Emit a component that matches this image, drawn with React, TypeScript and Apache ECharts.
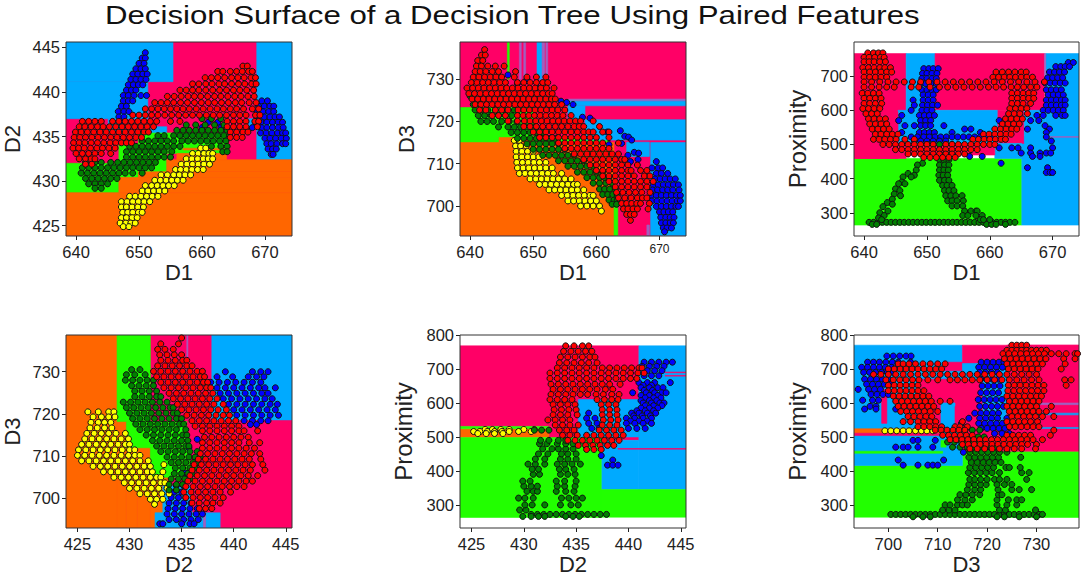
import React, { useEffect, useRef } from 'react'
import * as echarts from 'echarts'

// colours of the tree regions: 0 orange, 1 green, 2 pink, 3 blue, 4 mauve (thin slivers)
const regionColors = ['#FF6600', '#22FF00', '#FF0066', '#00AAFF', '#A060C0']

// regions are [x0, x1, y0, y1, colour], later ones paint over earlier ones
const p1Regions = [
  [638.4, 674.3, 423.9, 445.6, 2],
  [638.4, 655.4, 441.15, 445.6, 3], [638.4, 651.4, 437, 441.15, 3], [645.1, 647.5, 435.5, 437, 3],
  [668.7, 674.3, 432.4, 445.6, 3], [667.4, 668.7, 436.1, 437, 3], [651.9, 654.4, 435.4, 436.1, 3],
  [638.4, 646.8, 428.7, 432, 1], [646.8, 649.9, 430.4, 434.2, 1], [649.9, 654.4, 431, 435.4, 1], [654.4, 663.9, 433.1, 435.4, 1],
  [638.4, 674.3, 423.9, 428.7, 0], [646.8, 674.3, 428.7, 430.4, 0], [649.9, 674.3, 430.4, 431.05, 0],
  [654.4, 674.3, 431.05, 432.4, 0], [656, 663.9, 432.4, 433.1, 0], [657, 663.5, 433.5, 433.7, 0],
]
const p2Regions = [
  [638.4, 674.2, 693, 738.8, 2],
  [638.4, 650, 712, 723.3, 1], [650, 662, 700, 716, 1],
  [638.4, 662.8, 693, 715, 0], [644.6, 650, 715, 716.2, 0],
  [662.8, 663.4, 693, 700, 1],
  [645.9, 646.2, 730, 738.8, 1], [647.8, 648.1, 730, 738.8, 4], [648.5, 648.8, 730, 738.8, 4],
  [650.6, 651.4, 730, 738.8, 3], [651.4, 651.8, 730, 738.8, 4], [652, 652.3, 728, 738.8, 4],
  [655.5, 674.2, 724.8, 725.3, 4], [655.5, 674.2, 723.7, 724.8, 3], [655.5, 658.2, 720.4, 723.7, 3],
  [658.2, 674.2, 715.6, 720.4, 3], [664.8, 668.4, 711.7, 715.1, 3],
  [668.6, 674.2, 693, 715, 3], [668, 668.4, 693, 695.5, 4],
]
const p3Regions = [
  [638.4, 665.1, 264, 459, 1], [665.1, 674.2, 264, 522, 3], [668.9, 674.2, 522, 766, 3], [665.5, 674.2, 521, 523, 4],
  [638.4, 646.7, 459, 766, 2], [646.7, 651.3, 596, 766, 3], [651.3, 668.7, 600, 766, 2],
  [645.4, 661.3, 500, 600, 3], [638.4, 645.4, 459, 596, 2], [661.3, 665.5, 503, 600, 2],
  [665.5, 668.9, 459, 600, 3], [660.8, 665.1, 459, 503, 3], [645.4, 660.8, 469, 503, 2],
  [668.7, 668.9, 660, 766, 4],
]
const p4Regions = [
  [423.9, 445.6, 693, 738.7, 2],
  [423.9, 428.8, 693, 738.7, 0], [428.8, 429.7, 693, 718.2, 0], [429.7, 430.75, 693, 716.2, 0],
  [430.75, 432, 693, 714, 0], [432, 433.2, 693, 708, 0], [433.2, 433.9, 696.6, 705, 0],
  [428.8, 432, 718.2, 738.7, 1], [429.7, 435.5, 712, 718.2, 1], [432, 435.8, 705, 712, 1], [433.9, 435.5, 705, 708, 1],
  [437.9, 445.6, 718.6, 738.7, 3], [432.45, 437.1, 693, 696.6, 3], [437.3, 438.7, 693, 696.6, 3],
  [433.2, 436, 696.6, 703, 3], [437.1, 437.3, 693, 696.6, 4], [435.5, 435.6, 730, 738.7, 4],
]
const p5Regions = [
  [423.9, 441, 531, 768, 2], [432.4, 441, 490, 531, 2], [441, 445.5, 345, 768, 3], [437.4, 441, 345, 490, 3],
  [423.9, 432.4, 498, 524, 0], [423.9, 432.4, 524, 531, 1], [423.9, 445.5, 264, 345, 1], [423.9, 437.4, 264, 498, 1],
  [435.2, 441, 500, 610, 3], [439, 445.5, 464, 466, 2], [443.5, 445.5, 689, 691, 2], [443.5, 445.5, 679, 681, 2],
]
const p6Regions = [
  [693.05, 738.6, 264, 416, 1], [715, 738.6, 264, 458, 1],
  [693.05, 715, 416, 770, 3], [715, 724, 530, 716, 3], [724, 738.6, 458, 770, 2], [715, 738.6, 716, 770, 2],
  [693.05, 711, 452, 458, 1], [693.05, 712, 511, 524, 0], [693.05, 712, 504, 511, 2],
  [706, 719, 530, 670, 2],
  [710.65, 713.5, 500, 600, 3], [713.5, 715.8, 525, 590, 2], [710.65, 711.7, 470, 490, 1],
  [711, 715, 695, 720, 2], [698.65, 699.7, 540, 640, 2], [715, 719.2, 670, 716, 3], [715, 724, 458, 530, 2],
  [730, 738.6, 595, 600, 4], [730, 738.6, 565, 570, 3], [730, 738.6, 525, 528, 3],
]

// points, each row is [y, x, x, x ...]
const p1Blue = [
  [444.4, 651], [443.8, 650.5, 651], [443.2, 650, 650.8], [442.6, 649.5, 650.3, 651], [442, 649, 649.8, 650.6, 651.3],
  [441.4, 648.7, 649.5, 650.3, 651.1], [440.8, 648.3, 649.1, 649.9, 650.6], [440.2, 648, 648.8, 649.5],
  [439.6, 647.5, 648.3, 649.2, 650.3, 651.2], [439, 647.5, 648.3, 649], [438.4, 647.2, 648], [437.8, 646.7, 647.6, 648.4],
  [437.2, 646.8, 647.6], [436.6, 647.2],
  [439, 669.5, 670.4], [438.4, 669, 669.9, 670.8, 671.4], [437.8, 668.8, 669.7, 670.6, 671.4],
  [437.2, 669, 669.9, 670.8, 671.6, 672.3], [436.6, 668.5, 669.4, 670.3, 671.2, 672.1, 672.8],
  [436, 668, 669.5, 670.3, 671.2, 672.1, 672.9], [435.4, 669.3, 670.2, 671.1, 672, 672.8, 673.3],
  [434.8, 670, 670.8, 671.7, 672.6, 673.4], [434.2, 670.3, 671, 671.9, 672.8, 673.3], [433.6, 670.5, 671.2, 671.8], [433, 671, 671.3],
  [436.6, 661, 662.5], [436, 660, 663],
]
const p1Yellow = [
  [433.7, 659.8, 660.6], [433.1, 658.5, 659.4, 660.3, 661.1, 661.7], [432.5, 657.5, 658.4, 659.3, 660.2, 661, 661.7],
  [431.9, 656.7, 657.6, 658.5, 659.4, 660.3, 661.2], [431.3, 655.8, 656.6, 657.5, 658.4, 659.3, 660.2],
  [430.7, 653.5, 654.5, 655.5, 656.4, 657.3, 658.2], [430.1, 652.5, 653.4, 654.3, 655.2, 656.1, 657],
  [429.5, 651, 652, 652.9, 653.8, 654.7, 655.6], [428.9, 650.5, 651.4, 652.3, 653.2, 654.1],
  [428.3, 648.5, 649.4, 650.3, 651.2, 652.1, 653], [427.7, 647.2, 648.1, 649, 649.9, 650.8, 651.7],
  [427.1, 647.2, 648, 648.9, 649.8, 650.7], [426.5, 647.4, 648.2, 649, 649.9, 650.5], [425.9, 647.2, 648, 648.9, 649.7],
  [425.3, 647, 647.9, 648.7, 649.4], [424.9, 647.5, 648.4],
]
const p1Green = [
  [437, 660, 661.5, 663], [436.3, 657.5, 659, 660.5, 662, 663.5], [435.7, 656, 657, 658, 659, 660, 661, 662, 663, 664],
  [435.1, 653, 654, 655.5, 656.5, 657.5, 658.5, 659.5, 660.5, 661.5, 662.5, 663.5, 664.4],
  [434.5, 650.5, 651.5, 652.5, 653.5, 654.5, 655.5, 656.8, 657.8, 658.8, 659.8, 660.8, 661.8, 662.8, 663.8],
  [433.9, 648.5, 649.5, 650.5, 651.5, 652.5, 653.5, 654.5, 655.5, 656.5, 661.5, 663, 664],
  [433.3, 648, 649, 650, 651, 652, 653, 654, 655.2, 663.3, 664], [432.7, 648, 649, 650, 651, 652, 653, 654, 655],
  [432.1, 641.5, 643, 644, 645.5, 646.6, 647.6, 648.6, 649.6, 650.6, 651.6, 652.6],
  [431.5, 641, 642, 643, 644, 645, 646, 647, 648, 649, 650, 651, 652],
  [430.9, 640.8, 641.8, 642.8, 643.8, 644.8, 645.8, 646.8, 647.8, 649, 650.5],
  [430.3, 641.5, 642.5, 643.5, 644.5, 645.5, 646.5], [429.7, 642, 643, 644, 645], [429.2, 643, 644],
]
const p1Red = [
  [442.9, 666.5, 667.2], [442.3, 662.5, 663.3, 664.5, 665.5, 666.4, 667.4, 668],
  [441.6, 660.5, 661.5, 662.5, 663.6, 664.7, 665.7, 666.7, 667.8, 668.5],
  [440.9, 658.5, 659.5, 660.6, 661.6, 662.7, 663.6, 664.7, 665.8, 666.8, 667.9, 668.6],
  [440.2, 656.5, 657.5, 658.5, 659.5, 660.6, 661.7, 662.8, 663.9, 665, 666, 667.1, 668.2],
  [439.5, 654.5, 655.6, 656.7, 657.8, 658.8, 659.8, 660.9, 662, 663, 664.1, 665.2, 666.2, 667.3, 668.3],
  [438.8, 652.5, 653.5, 654.5, 655.5, 656.6, 657.7, 658.8, 659.9, 661, 662, 663.1, 664.2, 665.3, 666.3, 667.5, 668.6],
  [438.1, 651, 652, 653, 654, 655, 656, 657, 658, 659.1, 660.2, 661.3, 662.4, 663.4, 664.5, 665.5, 666.6, 668, 669],
  [437.4, 649, 650, 651, 652, 653, 654.1, 655.2, 656.3, 657.4, 658.5, 659.6, 660.7, 661.8, 662.8, 663.9, 665, 666, 667, 668.5, 669.2],
  [436.7, 641, 642, 643, 644, 645.8, 646.8, 647.8, 648.8, 649.8, 650.8, 651.8, 652.8, 655, 656.5, 664, 665, 666, 667, 668.4, 669],
  [436.1, 640.5, 641.4, 642.4, 643.4, 644.3, 645.3, 646.3, 647.3, 648.3, 649.3, 650.3, 651.3, 652.3, 664, 665, 666, 667, 668.8],
  [435.5, 639.9, 640.8, 641.8, 642.8, 643.8, 644.8, 645.8, 646.8, 647.8, 648.8, 649.8, 650.8, 651.5, 664.5, 665.5, 666.5, 667.3],
  [434.9, 639.7, 640.6, 641.5, 642.5, 643.5, 644.5, 645.5, 646.5, 647.5, 648.5, 649.5, 650.4, 664.5, 665.5, 666.4],
  [434.3, 639.6, 640.5, 641.4, 642.4, 643.4, 644.4, 645.4, 646.3, 647.2, 648, 648.8],
  [433.7, 639.5, 640.4, 641.3, 642.3, 643.3, 644.2, 645.2, 646.2], [433.1, 640, 641, 642, 643, 644, 645.5],
  [432.5, 640.5, 641.5, 642.4, 643], [431.9, 641.5, 642.5],
]

const p2Blue = [
  [710.5, 669.5], [709, 668.8, 669.8, 670.5], [707.7, 669.5, 670.3, 671.3], [706.4, 669.3, 670.1, 670.9, 671.7, 672.5],
  [705, 669, 669.8, 670.6, 671.4, 672.2, 673], [703.8, 668.9, 669.7, 670.5, 671.3, 672.1, 673.1],
  [702.5, 668.7, 669.5, 670.3, 671.1, 671.9, 672.7, 673.3], [701.2, 668.8, 669.6, 670.4, 671.2, 672, 672.8, 673.3],
  [699.9, 669.5, 670.3, 671.1, 671.9, 672.6, 673], [698.6, 670, 670.7, 671.4, 672.1], [697.3, 670.2, 671, 671.7, 672.3],
  [696, 670.3, 671, 671.7, 672.2], [694.8, 670.6, 671.2, 671.9], [693.9, 670.8],
  [731, 646], [730, 649], [729, 647.5], [728, 650.5], [724.8, 654.4], [724.5, 655.3], [724, 656.3], [721, 657.8], [720.8, 659],
  [717.8, 663.8], [717.5, 661.7], [716.5, 664.5], [716.3, 665.1], [715.6, 665.6], [714.8, 664], [714.5, 662],
  [712.7, 666], [712.5, 666.7], [712, 665], [711, 666.6], [710.5, 665.4],
]
const p2Yellow = [
  [715.5, 647, 647.8], [714.2, 647.2, 648, 648.9], [712.9, 647.3, 648.2, 649.1, 650], [711.6, 647.3, 648.2, 649.1, 650, 650.9],
  [710.3, 647.4, 648.3, 649.2, 650.1, 651, 652], [709, 647.5, 648.4, 649.3, 650.2, 651.1, 652, 653],
  [707.7, 647.8, 648.7, 649.6, 650.5, 651.4, 652.3, 653.2, 654.5], [706.4, 649.5, 650.4, 651.3, 652.2, 653.1, 654, 655, 656],
  [705.1, 651, 651.9, 652.8, 653.7, 654.6, 655.5, 656.4, 657], [703.8, 652.5, 653.4, 654.3, 655.2, 656.1, 657, 658],
  [702.5, 654.5, 655.4, 656.3, 657.2, 658.1, 659, 659.5], [701.2, 655.5, 656.4, 657.3, 658.2, 659.1, 660],
  [700, 657.5, 658.5, 659.5, 660.5], [698.8, 660.8],
]
const p2Green = [
  [726, 640], [724, 640.5, 641.5], [722.7, 640.8, 641.8, 642.8, 644, 645.5, 647], [721.4, 641.3, 642.3, 643.3, 644.5, 645.6, 646.6],
  [720, 641.7, 642.7, 643.7, 645, 646.2, 647.4], [718.7, 644.5, 646, 647, 648, 649, 650], [717.4, 646.5, 647.5, 648.5, 649.5, 650.5, 651.5],
  [716, 647.5, 648.5, 649.5, 650.5, 651.5, 652.5, 653.5], [714.7, 649, 650, 651, 652, 653, 654], [713.4, 650, 651, 652, 653, 654, 655],
  [712, 651.5, 652.5, 653.5, 654.5, 655.5, 656.5], [710.7, 654, 655, 656, 657, 658], [709.4, 655.5, 656.5, 657.5, 658.5, 659.5],
  [708, 657, 658, 659, 660, 661], [706.7, 658.5, 659.5, 660.5, 661.3, 662], [705.4, 659.5, 660.5, 661.5, 662.5],
  [704, 660.5, 661.3, 662.1, 663], [702.7, 661, 661.8, 662.6, 663.3], [701.4, 662, 662.8, 663.3], [700.4, 662.5, 663.2],
]
const p2Red = [
  [737, 642.3], [735.7, 641.8, 642.4], [734.4, 641.2, 642], [733.1, 641, 641.8, 642.8, 644, 645.4], [731.8, 640.8, 641.6, 642.5, 643.5, 644.5, 647.2],
  [730.5, 640.5, 641.4, 642.3, 643.2, 644.1, 645, 647, 649, 650.5, 652],
  [729.2, 640.2, 641.1, 642, 642.9, 643.8, 644.7, 645.6, 647.5, 648.5, 649.5, 650.5, 651.5, 652.3],
  [727.9, 639.5, 640.4, 641.3, 642.2, 643.1, 644, 644.9, 645.8, 646.7, 647.6, 648.5, 649.4, 650.3, 651.2, 652.1, 653.3],
  [726.6, 639.8, 640.7, 641.6, 642.5, 643.4, 644.3, 645.2, 646.1, 647, 647.9, 648.8, 649.7, 650.6, 651.5, 652.4, 653],
  [725.3, 640.3, 641.2, 642.1, 643, 643.9, 644.8, 645.7, 646.6, 647.5, 648.4, 649.3, 650.2, 651.1, 652, 652.9, 653.5],
  [724, 640.8, 641.7, 642.6, 643.5, 644.4, 645.3, 646.2, 647.1, 648, 648.9, 649.8, 650.7, 651.6, 652.5, 653.4, 654.5],
  [722.7, 641.5, 642.5, 644, 645, 646, 647.6, 648.5, 649.4, 650.3, 651.2, 652.1, 653, 653.9, 655],
  [721.4, 643.5, 644.5, 645.6, 647.5, 648.4, 649.3, 650.2, 651.1, 652, 652.9, 653.8, 654.7, 656],
  [720.1, 646, 647.5, 648.6, 649.5, 650.4, 651.3, 652.2, 653.1, 654, 654.9, 655.8, 656.7, 657.5, 659.5],
  [718.8, 648.5, 649.5, 650.5, 651.5, 652.5, 653.5, 654.5, 655.5, 656.5, 657.3, 658, 660.5],
  [717.5, 650, 651, 652, 653, 654, 655, 656, 657, 658, 658.8, 659.5, 661, 662],
  [716.2, 651, 652, 653, 654, 655, 656, 657, 658, 659, 660, 662],
  [714.9, 654, 655, 656, 657, 658, 659, 660, 661, 663.5], [713.6, 655, 656, 657, 658, 659, 660, 661, 662],
  [712.3, 656.5, 657.5, 658.5, 659.5, 660.5, 661.5, 662.5, 663.5], [711, 658, 659, 660, 661, 662, 663, 664, 664.5],
  [709.7, 659, 660, 661, 662, 663, 664, 665, 666.5], [708.4, 660, 661, 662, 663, 664, 665, 665.5, 667, 668],
  [707.1, 661, 662, 663, 664, 665, 666, 667.6, 668.5], [705.8, 662, 663, 664, 665, 666, 667, 668, 669],
  [704.5, 663, 664, 665, 666, 667, 668], [703.2, 663.2, 664.2, 665.2, 666.2, 667.2, 668.5], [701.9, 663.5, 664.5, 665.5, 666.5, 667.3, 668],
  [700.6, 664, 664.8, 665.6, 666.4, 667, 668.4], [699.3, 664.3, 665, 665.8, 666.5, 668.2], [698, 664.8, 665.4, 666], [696.6, 665.4],
]

const p3Green = [
  [272, 640.8, 641.5, 642.2, 642.9, 643.6, 644.3, 645, 645.7, 646.4, 647.1, 647.8, 648.5, 649.2, 649.9, 650.6, 651.3, 652, 652.7, 653.4, 654.1, 654.8, 655.5, 656.2, 656.9, 657.6, 658.3, 659, 659.7, 660.4, 661.1, 661.8, 662.5, 663.2, 664],
  [266, 641.3, 642, 659.5, 660.3, 661, 662.5], [470, 652.2, 653, 653.7], [455, 652, 652.7, 653.5], [445, 649.3], [440, 648.5, 652, 652.8, 653.5], [425, 648.3, 652, 652.7, 653.4],
  [415, 647], [410, 648, 651.9, 652.6, 653.3], [405, 646.2, 647.5], [395, 652, 652.8, 653.5], [390, 646], [385, 645.5, 646.5], [380, 652.5, 653.2, 654],
  [370, 645], [365, 645.7, 652.8, 653.5, 654.3], [355, 644.8], [350, 645.8, 653, 653.8, 654.6, 655.6], [340, 644.5], [335, 653.3, 654, 654.8, 655.8],
  [330, 643.7], [325, 644.5], [320, 654, 654.8, 655.7], [318, 643], [305, 643.8, 656, 657, 657.8, 658], [300, 642.5], [292, 643.2, 655.7, 656.5, 657.8, 658.8],
  [285, 642.3], [280, 658.5, 659, 660, 642.8], [500, 650, 651, 652, 653, 654],
]
const p3Blue = [
  [740, 672.5, 673.3], [728, 670.5, 671.3, 672, 672.7], [722, 649.5, 650.3, 651, 651.8], [712, 669.5, 670.3, 671.1, 671.9], [708, 649.3, 650, 650.8, 651.6],
  [695, 669.2, 670, 670.8, 671.6], [693, 649.2, 650, 650.8, 651.5], [680, 668.8, 669.6, 670.4, 671.2, 672], [678, 649, 649.8, 650.7, 651.5],
  [660, 649.2, 650, 650.8, 651.5, 669, 669.8, 670.6, 671.4], [645, 649.4, 650.2, 651, 669.3, 670.1, 670.9, 671.7], [630, 647.8, 649.4, 650.2, 651, 669, 669.8, 670.6, 671.4, 672],
  [615, 648, 649.3, 650.1, 650.9, 651.7, 669, 669.8, 670.6, 671.4, 672], [600, 647.5, 649.2, 650, 650.8, 668.5, 669.3, 670.1, 670.9, 671.7],
  [585, 646, 648.8, 649.6, 650.4, 651.2, 667.5, 668.5, 670.5, 671.5, 672], [570, 645.5, 649, 649.8, 650.6, 661.5, 666.5, 667.8], [555, 646.5, 648, 649, 649.8, 650.6, 652.7, 668.8],
  [545, 656, 657, 666, 669.5], [535, 646, 648.8, 649.6, 650.4, 651.2, 654, 658.5, 669], [522, 647.5, 648.5, 649.5, 650.4, 651.3, 652.2, 653.1, 654, 654.9, 655.8, 656.7, 657.6, 658.5, 659.4, 660.3, 669],
  [510, 648, 649, 650, 651, 652, 653, 669.8], [490, 661.5, 663.5, 664.5, 666.5, 670], [475, 665, 666.5, 668, 669, 669.7], [465, 656.8, 658.8, 666.8, 668],
  [445, 661.8], [432, 669.2, 666], [418, 669, 669.6, 670],
]
const p3Red = [
  [768, 640.6, 641.5, 642.3, 643], [755, 640, 640.8, 641.7, 642.6, 643.2], [742, 640, 640.8, 641.6, 642.5, 643.4], [725, 639.8, 640.7, 641.6, 642.5, 643.3, 644.2],
  [712, 640, 640.9, 641.8, 642.7, 643.6, 644.4, 661, 662, 663, 664, 665, 665.8], [697, 640, 640.9, 641.8, 642.7, 643.6, 660.5, 661.4, 662.3, 663.2, 664.1, 665, 665.9, 666.8],
  [683, 640, 641.2, 642.5, 643.8, 645.1, 646.4, 647.7, 649, 650.3, 651.6, 652.9, 654.2, 655.5, 656.8, 658.1, 659.4, 660.7, 662, 663.3, 664.6, 665.9, 667.2, 668.7],
  [668, 640, 641.2, 642.4, 643.6, 644.8, 647.5, 648.7, 650.5, 652, 653.3, 654.6, 655.9, 657.2, 658.5, 659.8, 661, 662.2, 663.4, 664.4, 665.4, 666.5, 667.5],
  [650, 639.7, 640.6, 641.5, 642.4, 663.5, 664.4, 665.3, 666.2, 667], [635, 640, 640.9, 641.8, 642.7, 663.5, 664.4, 665.3, 666.2, 667], [620, 640, 640.9, 641.8, 642.8, 663.5, 664.4, 665.3, 666.5],
  [605, 639.8, 640.7, 641.6, 642.5, 663.2, 664.1, 665, 665.9], [590, 640.3, 641.2, 642.1, 663, 663.9, 664.8, 666], [575, 640.7, 641.6, 642.5, 643.4, 662.5, 663.4, 664.3, 665.2],
  [560, 640.9, 641.8, 642.7, 643.6, 662, 662.9, 663.8, 664.7], [545, 641.3, 642.2, 643.1, 644, 660.8, 661.7, 662.6, 663.5, 664.3],
  [530, 641.8, 642.7, 643.6, 644.5, 645.4, 659, 659.9, 660.8, 661.7, 662.6, 663.4], [515, 641.5, 642.4, 643.3, 644.2, 645.1, 646.5, 648, 657.3, 658.2, 659.1, 660, 660.9, 661.8, 662.5],
  [500, 643, 644, 645, 646, 647, 648, 649, 650, 651, 653, 654, 655, 656, 657, 658, 659, 660, 660.8], [485, 645, 646, 647, 648, 649, 650, 651, 652, 653, 654, 655, 656, 657, 658],
  [472, 647, 648, 649, 650, 651, 652, 653, 654, 655, 656], [462, 649.5, 650.5, 651.5, 652.5, 653.5, 654.5],
]

const p4Blue = [
  [730, 439.2, 441.8, 442.6, 443.3], [728.8, 438.4, 439.9, 441.4, 442.2, 442.9], [727.5, 437.8, 438.6, 439.4, 440.2, 441, 441.8, 442.6],
  [726.2, 438.4, 439.2, 440, 440.8, 441.6, 442.4, 443, 444], [724.9, 438.7, 439.5, 440.3, 441.1, 441.9, 442.7, 443.3],
  [723.6, 439, 439.8, 440.6, 441.4, 442.2, 443, 443.7], [722.3, 439.5, 440.3, 441.1, 441.9, 442.7, 443.5, 444.2], [721, 440, 440.8, 441.6, 442.4, 443.2, 444],
  [719.7, 440.3, 441.1, 441.9, 442.7, 443.5, 444.3], [718.4, 441, 441.8, 442.6, 443.3], [717.5, 441.6, 442.2], [714, 436.5], [712, 435.7],
  [706, 435.4], [703, 434.5, 435.2], [701.5, 434.3, 435], [700.2, 434, 434.7, 435.4], [698.9, 433.8, 434.5, 435.2, 435.9], [697.6, 433.7, 434.4, 435.1, 435.8, 436.5],
  [696.3, 433.6, 434.3, 435, 435.7, 436.4, 437], [695, 433.8, 434.5, 435.2, 435.9, 436.6], [694, 432.9, 433.2, 435, 435.8, 436.2],
]
const p4Yellow = [
  [720.5, 426, 427, 428, 428.5], [719.3, 426.5, 427.3, 428, 428.6], [718, 426.3, 427, 427.6, 428.2], [716.7, 426.2, 426.9, 427.6, 428.3],
  [715.4, 425.9, 426.6, 427.3, 428, 428.7, 429.6], [714.1, 425.7, 426.4, 427.1, 427.8, 428.5, 429.2, 429.9],
  [712.8, 425.4, 426.1, 426.8, 427.5, 428.2, 428.9, 429.6, 430], [711.5, 425.1, 425.8, 426.5, 427.2, 427.9, 428.6, 429.3, 430, 430.5],
  [710.2, 425, 425.7, 426.4, 427.1, 427.8, 428.5, 429.2, 429.9, 430.5, 431], [708.9, 425.4, 426.1, 426.8, 427.5, 428.2, 428.9, 429.6, 430.3, 431, 431.8],
  [707.6, 426.5, 427.2, 427.9, 428.6, 429.3, 430, 430.7, 431.4, 432], [706.3, 427.5, 428.2, 428.9, 429.6, 430.3, 431, 431.7, 432.2, 433.2],
  [705, 428.5, 429.2, 429.9, 430.6, 431.3, 432, 432.6, 433], [703.7, 429.5, 430.2, 430.9, 431.6, 432.3, 433, 433.4], [702.4, 430, 430.7, 431.4, 432.1, 432.8, 433.6],
  [701.1, 431, 431.7, 432.4, 433.1, 433.8], [699.8, 432, 432.6, 433.2], [698.6, 432.4], [708, 433.3],
]
const p4Green = [
  [730.5, 430.2, 431], [729.3, 429.7, 430.5, 431.5], [728, 429.6, 430.3, 431, 431.7, 432.3], [726.7, 430.2, 430.9, 431.6, 432.3], [725.4, 430.5, 431.2, 431.9, 432.6],
  [724.1, 430.5, 431.2, 431.9, 432.6, 433], [722.8, 429.4, 430.1, 430.8, 431.5, 432.2, 432.9, 433.6], [721.5, 429.7, 430.4, 431.1, 431.8, 432.5, 433.2, 433.9, 434.2],
  [720.2, 430, 430.7, 431.4, 432.1, 432.8, 433.5, 434.2, 434.6], [718.9, 430.3, 431, 431.7, 432.4, 433.1, 433.8, 434.5, 435], [717.6, 430.6, 431.3, 432, 432.7, 433.4, 434.1, 434.8, 435.2],
  [716.3, 431, 431.7, 432.4, 433.1, 433.8, 434.5, 435.4], [715, 431.6, 432.3, 433, 433.7, 434.4, 435.1, 435.5], [713.7, 432.2, 432.9, 433.6, 434.3, 435, 435.6],
  [712.4, 432.6, 433.3, 434, 434.7, 435.4, 435.7], [711.1, 433, 433.7, 434.4, 435.1, 435.8, 436.5], [709.8, 433.6, 434.3, 435, 435.7, 436.3, 436.8], [708.5, 434, 434.7, 435.4, 436.1, 436.6],
  [707.2, 434.4, 435.1, 435.8, 436.3], [705.9, 434.3, 435, 435.6, 436], [704.6, 434, 434.7, 435.3, 435.8], [703.3, 433.8, 434.5, 435.1], [702, 433.8, 434.5],
]
const p4Red = [
  [738, 435], [736.6, 433, 434.7], [735.3, 432.7, 433.4, 434.2], [734, 432.9, 433.6, 434.3, 435], [732.7, 433, 433.7, 434.4, 435.1, 435.5],
  [731.4, 432.7, 433.4, 434.1, 434.8, 435.5, 436], [730.1, 432.3, 433, 433.7, 434.4, 435.1, 435.8, 436.5, 437], [728.8, 432.6, 433.3, 434, 434.7, 435.4, 436.1, 436.8, 437.2],
  [727.5, 433, 433.7, 434.4, 435.1, 435.8, 436.5, 437.1, 437.5], [726.2, 433.3, 434, 434.7, 435.4, 436.1, 436.8, 437.4, 437.8], [724.9, 433.8, 434.5, 435.2, 435.9, 436.6, 437.3, 438],
  [723.6, 434.2, 434.9, 435.6, 436.3, 437, 437.7, 438.4], [722.3, 434.6, 435.3, 436, 436.7, 437.4, 438.1, 439], [721, 435, 435.7, 436.4, 437.1, 437.8, 438.5, 439.3],
  [719.7, 435.5, 436.2, 436.9, 437.6, 438.3, 439, 439.6], [718.4, 436, 436.7, 437.4, 438.1, 438.8, 439.5, 440.2], [717.1, 436.3, 437, 437.7, 438.4, 439.1, 439.8, 440.5],
  [716, 437, 437.7, 438.4, 439.1, 439.8, 440.5, 441, 442.3], [714.5, 437.2, 437.9, 438.6, 439.3, 440, 440.7, 441.4], [713.2, 437, 437.7, 438.4, 439.1, 439.8, 440.5, 441.5, 442.5],
  [711.9, 437, 437.7, 438.4, 439.1, 439.8, 440.5, 441.2, 442], [710.6, 436.8, 437.5, 438.2, 438.9, 439.6, 440.3, 441, 441.7, 442.5], [709.3, 436.6, 437.3, 438, 438.7, 439.4, 440.1, 440.8, 441.5, 442.6],
  [708, 436.2, 436.9, 437.6, 438.3, 439, 439.7, 440.4, 441.1, 441.8, 442.8], [706.7, 436, 436.7, 437.4, 438.1, 438.8, 439.5, 440.2, 440.9, 441.6, 443], [705.4, 435.8, 436.5, 437.2, 437.9, 438.6, 439.3, 440, 440.7, 441.4, 442.3],
  [704.1, 435.6, 436.3, 437, 437.7, 438.4, 439.1, 439.8, 440.5, 441.2, 441.8], [702.8, 435.4, 436.1, 436.8, 437.5, 438.2, 438.9, 439.6, 440.3, 441], [701.5, 435.2, 435.9, 436.6, 437.3, 438, 438.7, 439.7],
  [700.2, 435.4, 436.1, 436.8, 437.5, 438.2, 439], [698.9, 436, 436.7, 437.4, 438, 438.7], [697.6, 436.7, 437.3, 437.9],
]

const p5Yellow = [
  [522, 426.3, 427, 427.8, 428.6, 430, 431], [516, 425.2, 425.8, 426.5, 427.2, 427.9, 428.6, 429.5, 430.7], [510, 425.6, 426.4, 427.2, 428],
]
const p5Blue = [
  [720, 441.5, 442.2, 442.9, 443.6, 444.2], [708, 441.3, 442, 442.7, 443.4], [695, 441.8, 442.5, 443.2], [680, 441.5, 442.2, 442.9],
  [660, 441, 441.8, 442.5, 444], [652, 441.4, 442.2], [645, 441.2, 442, 442.8, 443.3], [637, 441.5, 442.3], [630, 440.4, 441.7, 442.5, 443.2, 443.6], [622, 441.2, 442, 442.8], [615, 441.6, 442.4, 443.1], [607, 441.2, 442, 442.7], [600, 441.4, 442.2, 443, 443.4],
  [592, 441.6, 442.4, 443.2], [585, 441.2, 442, 442.8], [577, 440.8, 441.6, 442.4], [570, 440.3, 441, 441.8, 442.6, 436.2], [562, 440.5, 441.3, 442.1], [555, 439.8, 440.6, 441.4, 442.2, 436, 436.8], [547, 440.2, 441, 441.8], [540, 439.8, 440.6, 441.4, 442.2, 436.2, 437],
  [525, 440, 440.8, 441.6, 436.5, 437.2], [445, 437.4], [432, 438.5], [417, 438, 438.5, 439],
]
const p5Green = [
  [272, 430.7, 431.3, 431.9, 432.5, 433.1, 433.7, 434.3, 434.9, 435.5, 436.1, 436.7, 437.3, 437.9], [266, 429.9, 430.7, 431.4, 432, 434, 434.7, 435.3],
  [285, 429.6, 430.2], [300, 430.1, 430.8, 433.5, 434.5, 435.2, 432], [320, 429.5, 430.1, 430.9, 433.6, 434.3, 435, 435.6], [340, 430.3, 430.9, 431.3, 433.1, 434, 434.8],
  [355, 430, 430.7, 431.3, 433.2, 433.9, 434.9], [370, 429.9, 430.6, 433.1, 433.9, 435], [390, 430.9, 431.5, 433.5, 434.2, 434.9], [405, 430.8, 431.4, 433.4, 434, 434.8],
  [420, 430.4, 431.1, 432, 433.2, 433.9, 434.6, 435.4], [435, 431.1, 432, 433.5, 434.2, 435], [450, 431.4, 432.3, 433.6, 434.2, 435],
  [465, 431.8, 432.7, 433.3, 434, 434.7], [480, 431.5, 432.2, 433.2, 434, 434.7], [490, 431.6, 432.4, 433.3, 434], [520, 431, 431.7, 432.4],
]
const p5Red = [
  [768, 434, 434.8, 435.6, 436.2], [752, 433.8, 434.5, 435.2, 435.9, 436.5], [735, 433.5, 434.2, 434.9, 435.6, 436.3, 436.8], [718, 433.4, 434.1, 434.8, 435.5, 436.2, 437],
  [703, 433.2, 433.9, 434.6, 435.3, 436, 436.7, 437.5, 438.2, 438.9, 439.6, 440.3, 441, 441.3], [688, 432.5, 433.2, 433.9, 434.6, 435.3, 436, 436.7, 437.4, 438.1, 438.8, 439.5, 440.2, 440.9, 441.5],
  [672, 432.5, 433.2, 433.9, 434.6, 435.3, 436, 436.7, 437.4, 438.1, 438.8, 439.5, 440.2, 440.8], [655, 432.6, 433.3, 434, 434.7, 435.4, 436.1, 436.8, 437.5, 438.2, 439.2],
  [640, 432.8, 433.5, 434.2, 434.9, 435.6, 436.3, 437, 437.8, 438.5], [625, 432.6, 433.3, 434, 434.7, 435.4, 436.1, 436.9, 437.6, 438.4, 439.1], [610, 432.5, 433.2, 433.9, 434.6, 437, 437.7, 438.4, 439],
  [595, 432.8, 433.5, 434.2, 434.9, 437.4, 438.1, 438.8], [580, 432.9, 433.6, 434.3, 435, 437.5, 438.2, 438.9], [565, 432.8, 433.5, 434.2, 435.1, 437.5, 438.2, 438.9], [550, 432.3, 433, 433.7, 434.4, 437.6, 438.3, 439],
  [535, 433, 433.7, 434.4, 435.2, 437.5, 438.2, 438.9], [520, 433.4, 434.1, 434.8, 437.2, 437.9, 438.6, 439.3], [505, 433.7, 434.4, 435.1, 436, 436.7, 437.4, 438.1, 438.8, 439.5],
  [490, 434.2, 434.9, 435.6, 436.3, 437, 437.7, 438.4, 439.1], [475, 435.2, 435.9, 436.6, 437.3, 438, 438.6], [463, 436, 436.7, 437.4],
]

const p6Yellow = [[518, 699.3, 700.5, 701.7, 703, 704.2, 705.5, 706.7, 707.8, 709]]
const p6Blue = [
  [738, 699.7, 701, 702.3, 703.6, 704.6], [720, 695.8, 697, 698.2, 699.5, 700.8, 702, 704.5], [705, 694.6, 695.8, 697, 698.2, 699.4, 700.6, 701.8], [690, 695, 696.2, 697.4, 698.6, 699.8, 701],
  [670, 695.2, 696.4, 697.6, 698.8, 700], [655, 695.6, 696.8, 698, 699.2, 700.4], [640, 693.9, 696, 697.2, 698.4], [625, 696.5, 697.7, 698.9, 700], [608, 694.8, 696.8, 698], [590, 696.3, 697.5],
  [582, 695.2, 697.5, 701.5], [720, 718.8, 720, 721.2, 722.4, 723.4], [705, 718.3, 719.5, 720.7, 721.9, 723.1], [690, 718.5, 719.7, 720.9, 722.1], [670, 718.7, 719.9, 721.1, 722.3],
  [650, 719, 720.2, 721.4, 722.6], [630, 718.7, 719.9, 721.1, 722.3], [610, 718.2, 719.4, 720.6, 721.8, 723], [590, 718.5, 719.7, 720.9, 722.1, 723.3], [570, 717.5, 718.7, 719.9, 721.1, 722.3],
  [555, 716.3, 718.5, 719.7, 720.9, 722.1, 724], [540, 714.8, 718.3, 719.5, 720.7, 721.9, 723.1], [525, 718.8, 720, 721.2, 722.4, 723.6], [510, 721.5, 723, 724.5],
  [490, 705, 706, 709.5], [470, 701.5, 703, 704, 706, 709], [455, 715.2], [432, 702, 711.2], [417, 703, 706, 708, 709, 710],
]
const p6Green = [
  [272, 700.5, 701.5, 702.5, 703.5, 704.5, 705.5, 706.5, 707.5, 708.5, 709.5, 710.5, 711.5, 712.5, 713.5, 714.5, 715.5, 716.5, 717.5, 718.5, 719.5, 720.5, 721.5, 722.5, 723.5, 724.5, 725.5, 726.5, 727.5, 728.5, 729.5, 730.5, 731.2],
  [265, 705, 707, 708.5, 722, 723.5, 726.5, 730], [285, 711, 712.3, 713.5, 722.5, 723.7, 729.8], [300, 711.5, 712.5, 714, 715, 716, 722, 724, 726], [315, 714, 715.5, 717, 722, 724.3, 726, 727],
  [330, 714.5, 715.7, 717, 718.5, 722.3, 723], [345, 716, 717.5, 718.7, 722.2, 725, 726.5, 729], [360, 716.3, 717.5, 718.7, 719.8, 722, 723.5, 725], [375, 716.5, 717.5, 718.7, 720, 721.5, 722.5, 724, 728],
  [395, 716.2, 717.4, 718.6, 719.8, 721, 722.5, 727, 728.5], [410, 716.5, 717.7, 718.9, 720.1, 721.3, 723.8, 724.5, 726.7], [425, 716.8, 718, 719.2, 720.4, 721.6, 722.8],
  [440, 716.3, 717.5, 718.7, 719.9, 721.1, 722.3, 726.8], [455, 716.5, 717.7, 718.9, 720.1, 721.3, 722.5, 724], [470, 713, 714.5, 716, 717.2, 718.4, 719.6, 720.8, 722],
  [485, 712, 713.4, 714.8, 716, 717.2, 718.4], [500, 712.5, 713.7, 717, 718.2, 719.4], [520, 715.5, 717, 718.5],
]
const p6Red = [
  [770, 725, 726, 727, 728], [755, 724, 725, 726, 727, 728, 729, 730, 731, 732], [745, 723.2, 724.4, 725.6, 726.8, 728, 729.2, 730.4, 731.6, 733, 734.5, 736, 737.8, 738.3],
  [730, 723.5, 724.7, 725.9, 727.1, 728.3, 729.5, 730.7, 731.9, 735.5, 737.8], [715, 702, 703, 704.2, 705.5, 707, 708.5, 710, 711.5, 724, 725.2, 726.4, 727.6, 728.8, 730, 731.2, 735.8],
  [700, 700, 701.2, 702.4, 703.6, 704.8, 706, 707.2, 708.4, 709.6, 710.8, 724.3, 725.5, 726.7, 727.9, 729.1, 730.3, 735],
  [684, 697, 698.5, 700, 701.5, 703, 704.5, 706, 707.5, 709, 710.5, 712, 713.5, 715, 716.5, 718, 719.5, 721, 722.5, 724, 725.5, 727, 728.5, 730],
  [668, 699.5, 701, 702.3, 703.6, 704.9, 706.2, 708, 710, 712.5, 714, 715.5, 717, 718.5, 720, 721.5, 723, 724.5, 726, 727.5, 729, 730.5, 735.7, 737],
  [652, 700, 701.2, 702.4, 703.6, 704.8, 706, 724.3, 725.5, 726.7, 727.9, 729.1, 730.3, 731.5, 736],
  [636, 700, 701.2, 702.4, 703.6, 704.8, 706, 707.2, 724.2, 725.4, 726.6, 727.8, 729, 730.2, 731.5], [620, 701, 702.2, 703.4, 704.6, 705.8, 707, 708.2, 724, 725.2, 726.4, 727.6, 728.8, 730, 731],
  [605, 701.5, 702.7, 703.9, 705.1, 706.3, 707.5, 708.7, 710.5, 724.5, 725.7, 726.9, 728.1, 729.3, 730.5, 712.5],
  [590, 702, 703.2, 704.4, 705.6, 706.8, 708, 709.2, 724, 725.2, 726.4, 727.6, 728.8, 730, 733], [575, 702.5, 703.7, 704.9, 706.1, 707.3, 708.5, 710, 724.5, 725.7, 726.9, 728.1, 729.3, 730.5, 732],
  [560, 704, 705.2, 706.4, 707.6, 708.8, 725, 726.2, 727.4, 728.6, 729.8, 731.2, 733.5], [545, 703, 704.5, 706, 707.2, 708.4, 709.6, 715, 724, 725.2, 726.4, 727.6, 728.8, 730.2],
  [530, 706, 707.2, 708.4, 709.6, 710.8, 713.5, 714.5, 716, 724.5, 725.7, 726.9, 728.1, 729.3, 730.5], [520, 709.5, 710.7, 711.9, 713.1, 714.3, 715.5, 733.5], [505, 711, 712.2, 713.4, 714.6, 715.8, 717, 724, 725.2, 726.4, 727.6, 728.8, 732.8],
  [492, 712.5, 713.7, 714.9, 716.1, 717.3, 718.5, 719.7, 720.9, 722.1, 723.3, 724.5, 725.7, 726.9, 728.1, 729.3, 731.2], [478, 715, 716.2, 717.4, 718.6, 719.8, 721, 722.2, 723.4, 724.6, 725.8, 727, 728.2, 730],
  [465, 716.5, 718, 719.5, 721, 722.5, 724, 725.5, 727, 729.8],
]

const ticksD1 = [640, 650, 660, 670]
const ticksD2 = [425, 430, 435, 440, 445]
const ticksD3Small = [700, 710, 720, 730]
const ticksProx = [300, 400, 500, 600, 700]
const ticksProxTop = [300, 400, 500, 600, 700, 800]

const pointColors = { blue: '#0000FF', yellow: '#FFFF00', green: '#008000', red: '#FF0000' }

// [left, top, width, height] of every small chart and its axes
const panels: any[] = [
  { box: [66, 42, 226, 194], xName: 'D1', yName: 'D2', xr: [638.4, 674.3], yr: [423.85, 445.6], xt: ticksD1, yt: ticksD2, regions: p1Regions, pts: { blue: p1Blue, yellow: p1Yellow, green: p1Green, red: p1Red } },
  { box: [460, 42, 226, 194], xName: 'D1', yName: 'D3', xr: [638.4, 674.2], yr: [692.9, 738.8], xt: ticksD1, yt: ticksD3Small, regions: p2Regions, pts: { blue: p2Blue, yellow: p2Yellow, green: p2Green, red: p2Red }, smallTick: 670 },
  { box: [854, 42, 225, 194], xName: 'D1', yName: 'Proximity', xr: [638.4, 674.2], yr: [232, 800], xt: ticksD1, yt: ticksProx, regions: p3Regions, pts: { blue: p3Blue, yellow: [], green: p3Green, red: p3Red } },
  { box: [66, 335, 226, 193], xName: 'D2', yName: 'D3', xr: [423.9, 445.6], yr: [693, 738.7], xt: ticksD2, yt: ticksD3Small, regions: p4Regions, pts: { blue: p4Blue, yellow: p4Yellow, green: p4Green, red: p4Red } },
  { box: [460, 335, 226, 193], xName: 'D2', yName: 'Proximity', xr: [423.9, 445.5], yr: [232, 800], xt: ticksD2, yt: ticksProxTop, regions: p5Regions, pts: { blue: p5Blue, yellow: p5Yellow, green: p5Green, red: p5Red } },
  { box: [854, 335, 225, 193], xName: 'D3', yName: 'Proximity', xr: [693.05, 738.6], yr: [232, 800], xt: ticksD3Small, yt: ticksProxTop, regions: p6Regions, pts: { blue: p6Blue, yellow: p6Yellow, green: p6Green, red: p6Red } },
]

const toPairs = (rows: number[][]) => rows.flatMap(([y, ...xs]) => xs.map((x) => [x, y]))

const renderRegion = (_params: any, api: any) => {
  const a = api.coord([api.value(0), api.value(3)])
  const b = api.coord([api.value(1), api.value(2)])
  const fill = regionColors[api.value(4)]
  return {
    type: 'rect',
    shape: { x: a[0], y: a[1], width: b[0] - a[0], height: b[1] - a[1] },
    // thin stroke of the same colour hides the seams between touching rects
    style: { fill, stroke: fill, lineWidth: 0.6 },
  }
}

const axisBase = {
  axisLine: { show: false },
  splitLine: { show: false },
  axisTick: { length: 4, lineStyle: { color: '#222' } },
}

const buildOption = () => ({
  animation: false,
  backgroundColor: '#fff',
  textStyle: { fontFamily: 'Liberation Sans' },
  graphic: [
    {
      type: 'text', x: 105, y: 15, scaleX: 1.2, silent: true,
      style: {
        text: 'Decision Surface of a Decision Tree Using Paired Features',
        fontSize: 26, fontFamily: 'Liberation Sans', fill: '#111', verticalAlign: 'middle',
      },
    },
  ],
  grid: panels.map((p) => ({
    left: p.box[0], top: p.box[1], width: p.box[2], height: p.box[3],
    show: true, z: 2, borderColor: '#333', borderWidth: 1, backgroundColor: 'transparent',
  })),
  xAxis: panels.map((p, i) => ({
    ...axisBase,
    type: 'value', gridIndex: i, min: p.xr[0], max: p.xr[1],
    name: p.xName, nameLocation: 'middle', nameGap: 25,
    nameTextStyle: { fontSize: 22, color: '#222' },
    axisTick: { ...axisBase.axisTick, customValues: p.xt },
    axisLabel: {
      customValues: p.xt, fontSize: 16.5, color: '#222', margin: 7,
      formatter: (v: number) => (v === p.smallTick ? `{s|${v}}` : `${v}`),
      rich: { s: { fontSize: 12, color: '#222' } },
    },
  })),
  yAxis: panels.map((p, i) => ({
    ...axisBase,
    type: 'value', gridIndex: i, min: p.yr[0], max: p.yr[1],
    name: p.yName, nameLocation: 'middle', nameGap: p.yName === 'Proximity' ? 45 : 43,
    nameTextStyle: { fontSize: p.yName === 'Proximity' ? 24 : 22, color: '#222' },
    axisTick: { ...axisBase.axisTick, customValues: p.yt },
    axisLabel: { customValues: p.yt, fontSize: 16.5, color: '#222', margin: 6 },
  })),
  series: panels.flatMap((p, i) => [
    {
      type: 'custom', xAxisIndex: i, yAxisIndex: i, z: 1, silent: true, clip: true,
      renderItem: renderRegion, encode: { x: [0, 1], y: [2, 3] }, data: p.regions,
    },
    ...(['blue', 'yellow', 'green', 'red'] as const).map((name) => ({
      type: 'scatter', xAxisIndex: i, yAxisIndex: i, z: 3, silent: true,
      symbolSize: 6,
      itemStyle: { color: pointColors[name], borderColor: '#111', borderWidth: 1, opacity: 1 },
      data: toPairs(p.pts[name]),
    })),
  ]),
})

export default function App() {
  const dom = useRef<HTMLDivElement>(null)

  useEffect(() => {
    const chart = echarts.init(dom.current!, null, { renderer: 'svg' })
    chart.setOption(buildOption() as any)
    return () => chart.dispose()
  }, [])

  return <div ref={dom} style={{ position: 'fixed', left: 0, top: 0, width: 1084, height: 577 }} />
}
